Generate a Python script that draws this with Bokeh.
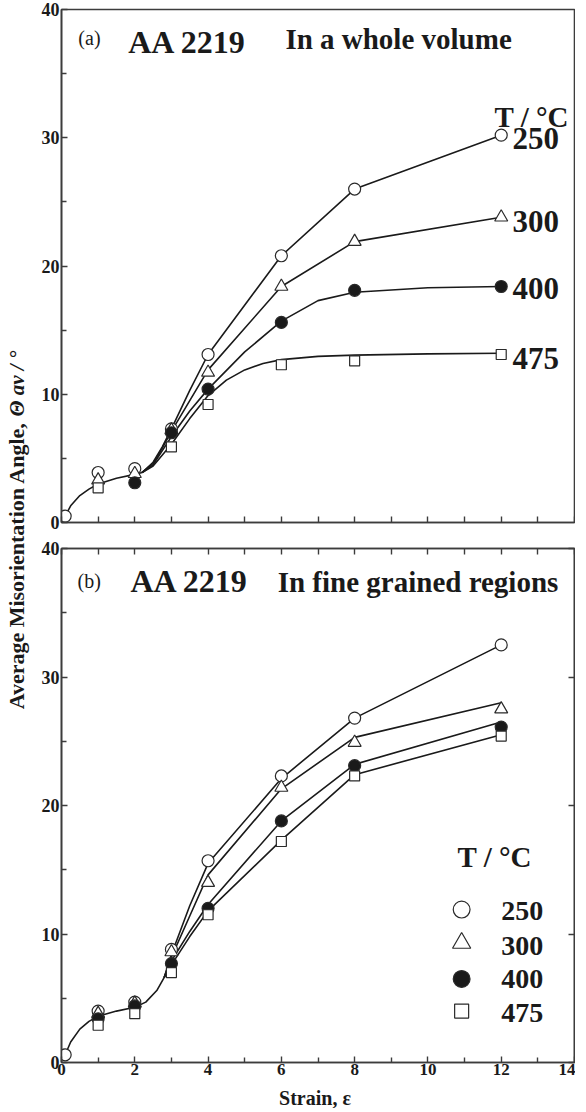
import numpy as np
from bokeh.plotting import figure
from bokeh.models import Range1d, LinearAxis, FixedTicker, Label, CustomJSTickFormatter
from bokeh.layouts import row, column
from bokeh.embed import file_html
from bokeh.resources import INLINE

FONT = "Liberation Serif"
INK = "#1a1a1a"
FRAME = "#3c3c3c"

# ---------------- data ----------------
temps = ["250", "300", "400", "475"]
legend_title = "T / °C"

# (a) whole volume - measured points
strain_a250 = [0.1, 1, 2, 3, 4, 6, 8, 12]
theta_a250 = [0.5, 3.9, 4.2, 7.3, 13.1, 20.8, 26.0, 30.2]
strain_a300 = [1, 2, 3, 4, 6, 8, 12]
theta_a300 = [3.3, 3.8, 7.2, 11.7, 18.4, 21.9, 23.8]
strain_a400 = [2, 3, 4, 6, 8, 12]
theta_a400 = [3.1, 7.0, 10.4, 15.6, 18.1, 18.4]
strain_a475 = [1, 3, 4, 6, 8, 12]
theta_a475 = [2.7, 5.9, 9.2, 12.3, 12.6, 13.1]

# (a) drawn trend curves
fit_a_common_x = [0.1, 0.25, 0.5, 0.75, 1.0, 1.5, 2.0, 2.2]
fit_a_common_y = [0.5, 1.3, 2.1, 2.6, 3.0, 3.45, 3.75, 3.9]
fit_a250_x = [2.2, 2.5, 2.75, 3.0, 3.5, 4.0, 6, 8, 12]
fit_a250_y = [3.9, 4.7, 5.9, 7.3, 10.3, 13.1, 20.8, 26.0, 30.2]
fit_a300_x = [2.2, 2.5, 2.75, 3.0, 3.5, 4.0, 6, 8, 12]
fit_a300_y = [3.9, 4.6, 5.8, 7.1, 9.5, 11.9, 18.4, 21.9, 23.8]
fit_a400_x = [2.2, 2.5, 3.0, 3.5, 4.0, 5.0, 6.0, 7.0, 8.0, 10.0, 12.0]
fit_a400_y = [3.9, 4.5, 6.7, 8.7, 10.4, 13.3, 15.7, 17.3, 17.95, 18.3, 18.4]
fit_a475_x = [2.2, 2.5, 3.0, 3.5, 4.0, 4.5, 5.0, 5.5, 6.0, 7.0, 8.0, 10.0, 12.0]
fit_a475_y = [3.9, 4.4, 6.1, 8.1, 9.9, 11.1, 11.9, 12.4, 12.7, 12.95, 13.05, 13.15, 13.2]

# (b) fine grained regions - measured points
strain_b250 = [0.1, 1, 2, 3, 4, 6, 8, 12]
theta_b250 = [0.6, 4.0, 4.7, 8.8, 15.7, 22.3, 26.8, 32.5]
strain_b = [1, 2, 3, 4, 6, 8, 12]
theta_b300 = [3.8, 4.6, 8.6, 14.0, 21.4, 24.9, 27.5]
theta_b400 = [3.4, 4.4, 7.7, 12.0, 18.8, 23.1, 26.1]
theta_b475 = [2.9, 3.8, 7.0, 11.5, 17.2, 22.3, 25.4]

# (b) drawn trend curves
fit_b_common_x = [0.1, 0.25, 0.5, 0.75, 1.0, 1.5, 2.0, 2.3, 2.6, 2.8]
fit_b_common_y = [0.6, 1.6, 2.6, 3.2, 3.6, 4.0, 4.3, 4.7, 5.6, 6.6]
fit_b_x = [2.8, 3.0, 3.5, 4.0, 6, 8, 12]
fit_b250_y = [6.6, 8.4, 12.2, 15.5, 22.1, 26.8, 32.5]
fit_b300_y = [6.6, 8.2, 11.4, 14.6, 21.3, 25.3, 28.0]
fit_b400_y = [6.6, 7.9, 10.2, 12.3, 18.8, 23.2, 26.5]
fit_b475_y = [6.6, 7.6, 9.8, 11.8, 17.3, 22.4, 25.5]

x_major = [0, 2, 4, 6, 8, 10, 12, 14]
x_minor = [1, 3, 5, 7, 9, 11, 13]
x_all = list(range(0, 15))
y_major = [0, 10, 20, 30, 40]
y_minor = [5, 15, 25, 35]

# ---------------- styles ----------------
STYLE = {
    "250": dict(marker="circle", fill_color="white", size=12),
    "300": dict(marker="triangle", fill_color="white", size=13),
    "400": dict(marker="circle", fill_color=INK, size=12),
    "475": dict(marker="square", fill_color="white", size=10),
}

W = 545          # width of each panel figure
LW = 30          # width of the y-title strip
H1, H2, XH = 535, 547, 26


def style_axis(ax, ticks, minor=None, labels=True, size="18px", standoff=2):
    ax.ticker = FixedTicker(ticks=ticks, minor_ticks=minor or [])
    ax.axis_line_color = FRAME
    ax.axis_line_width = 1.6
    ax.major_tick_line_color = FRAME
    ax.minor_tick_line_color = FRAME
    ax.major_tick_line_width = 1.4
    ax.minor_tick_line_width = 1.4
    ax.major_tick_in = 6
    ax.major_tick_out = 0
    ax.minor_tick_in = 5
    ax.minor_tick_out = 0
    if labels:
        ax.major_label_text_font = FONT
        ax.major_label_text_font_style = "bold"
        ax.major_label_text_font_size = size
        ax.major_label_text_color = INK
        ax.major_label_standoff = standoff
    else:
        ax.formatter = CustomJSTickFormatter(code="return ''")
        ax.major_label_text_font_size = "1px"
        ax.major_label_standoff = 0


def base_fig(height, mb_left, mb_top, mb_bottom):
    p = figure(width=W, height=height, x_range=Range1d(0, 14), y_range=Range1d(0, 40),
               min_border_left=mb_left, min_border_right=1, min_border_top=mb_top,
               min_border_bottom=mb_bottom, toolbar_location=None, output_backend="svg")
    p.grid.visible = False
    p.outline_line_color = FRAME
    p.outline_line_width = 1.6
    p.background_fill_color = "white"
    p.border_fill_color = "white"
    return p


def add_text(p, x, y, text, size, style="bold", align="left"):
    p.add_layout(Label(x=x, y=y, text=text, text_font=FONT, text_font_size=size,
                       text_font_style=style, text_color=INK, text_align=align,
                       text_baseline="alphabetic"))


def points(p, xs, ys, t, scale=1.0):
    st = STYLE[t]
    p.scatter(xs, ys, marker=st["marker"], size=st["size"] * scale, fill_color=st["fill_color"],
              line_color="#2a2a2a", line_width=1.2)


def curve(p, xs, ys):
    p.line(xs, ys, line_color=INK, line_width=1.6)


# ---------------- panel (a) ----------------
p1 = base_fig(H1, 29, 9, 13)
style_axis(p1.xaxis[0], x_all, labels=False)
style_axis(p1.yaxis[0], y_major, y_minor)

curve(p1, fit_a_common_x, fit_a_common_y)
curve(p1, fit_a250_x, fit_a250_y)
curve(p1, fit_a300_x, fit_a300_y)
curve(p1, fit_a400_x, fit_a400_y)
curve(p1, fit_a475_x, fit_a475_y)
points(p1, strain_a250, theta_a250, "250")
points(p1, strain_a300, theta_a300, "300")
points(p1, strain_a400, theta_a400, "400")
points(p1, strain_a475, theta_a475, "475")

add_text(p1, 0.46, 37.76, "(a)", "20px", style="normal")
add_text(p1, 1.82, 37.47, "AA 2219", "32px")
add_text(p1, 6.11, 37.72, "In a whole volume", "29px")
add_text(p1, 11.82, 31.62, legend_title, "29px")
end_label_y = [29.95, 23.45, 18.25, 12.75]
for t, yy in zip(temps, end_label_y):
    add_text(p1, 12.31, yy, t, "31px")

# ---------------- panel (b) ----------------
p2 = base_fig(H2, 31, 13, 20)
style_axis(p2.xaxis[0], x_major, x_minor, size="17px", standoff=1)
style_axis(p2.yaxis[0], y_major, y_minor)
top_ax = LinearAxis()
style_axis(top_ax, x_all, labels=False)
p2.add_layout(top_ax, "above")
right_ax = LinearAxis()
style_axis(right_ax, y_major, labels=False)
p2.add_layout(right_ax, "right")

curve(p2, fit_b_common_x, fit_b_common_y)
curve(p2, fit_b_x, fit_b250_y)
curve(p2, fit_b_x, fit_b300_y)
curve(p2, fit_b_x, fit_b400_y)
curve(p2, fit_b_x, fit_b475_y)
points(p2, strain_b250, theta_b250, "250")
points(p2, strain_b, theta_b300, "300")
points(p2, strain_b, theta_b400, "400")
points(p2, strain_b, theta_b475, "475")

add_text(p2, 0.44, 37.46, "(b)", "20px", style="normal")
add_text(p2, 1.88, 37.47, "AA 2219", "32px")
add_text(p2, 5.9, 37.42, "In fine grained regions", "29px")

# legend
add_text(p2, 10.81, 16.02, legend_title, "29px")
leg_y = [11.9, 9.3, 6.5, 4.0]
leg_label_y = [11.8, 9.1, 6.5, 3.85]
for t, ym, yl in zip(temps, leg_y, leg_label_y):
    points(p2, [10.92], [ym], t, scale=1.4)
    add_text(p2, 12.0, yl, t, "28px")

# ---------------- y-axis title strip ----------------
H = H1 + H2
lf = figure(width=LW, height=H, x_range=Range1d(0, LW), y_range=Range1d(H, 0),
            min_border=0, toolbar_location=None, output_backend="svg",
            x_axis_location=None, y_axis_location=None)
lf.grid.visible = False
lf.outline_line_color = None
lf.add_layout(Label(x=16, y=416, text="Average Misorientation Angle, ", angle=np.pi / 2,
                    text_font=FONT, text_font_size="22px", text_font_style="bold",
                    text_color=INK, text_align="right", text_baseline="alphabetic"))
lf.add_layout(Label(x=16, y=416, text="Θ av / °", angle=np.pi / 2,
                    text_font=FONT, text_font_size="21px", text_font_style="bold italic",
                    text_color=INK, text_align="left", text_baseline="alphabetic"))

# ---------------- x-axis title strip ----------------
xf = figure(width=LW + W, height=XH, x_range=Range1d(0, LW + W), y_range=Range1d(XH, 0),
            min_border=0, toolbar_location=None, output_backend="svg",
            x_axis_location=None, y_axis_location=None)
xf.grid.visible = False
xf.outline_line_color = None
xf.add_layout(Label(x=314.5, y=15, text="Strain, ε", text_font=FONT, text_font_size="20px",
                    text_font_style="bold", text_color=INK, text_align="center",
                    text_baseline="alphabetic"))

layout = column(row(lf, column(p1, p2)), xf)
open("out.html", "w").write(file_html(layout, INLINE))
